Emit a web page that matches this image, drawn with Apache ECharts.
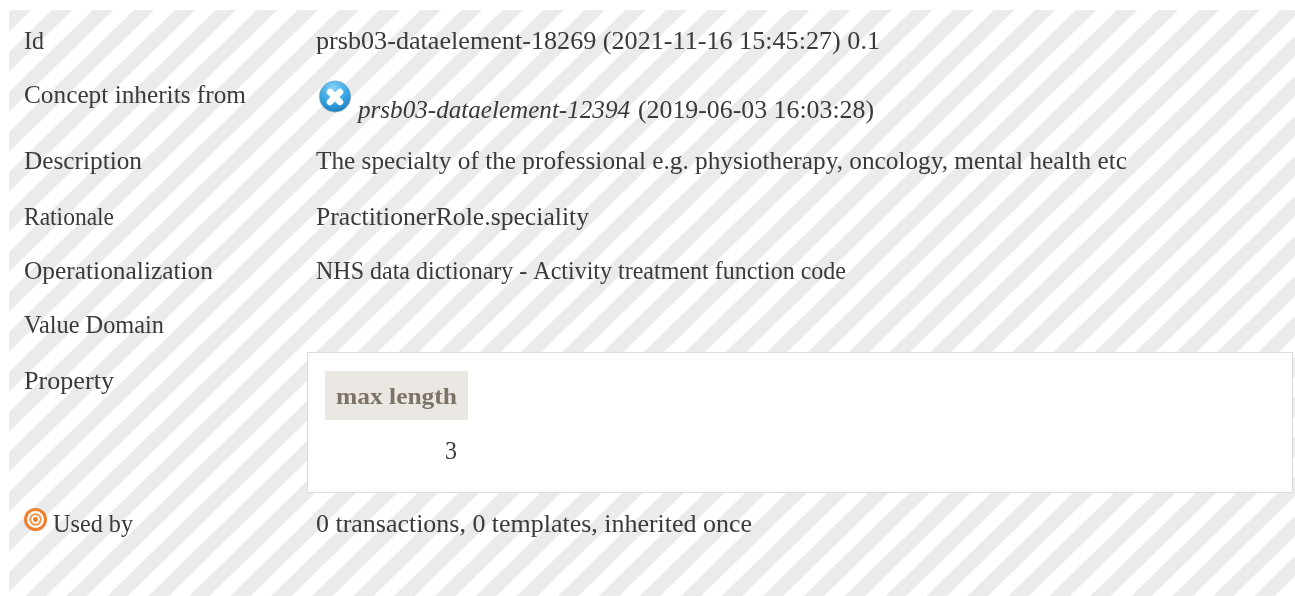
<!DOCTYPE html>
<html>
<head>
<meta charset="utf-8">
<title>prsb03-dataelement-18269</title>
<style>
html, body { margin: 0; padding: 0; background: #fff; }
#main { width: 1295px; height: 596px; }
</style>
<script src="https://cdn.jsdelivr.net/npm/echarts@6/dist/echarts.min.js"></script>
</head>
<body>
<div id="main"></div>
<script>
// row labels and their texts
var rowLabels = ['Id', 'Concept inherits from', 'Description', 'Rationale', 'Operationalization', 'Value Domain', 'Property', 'Used by'];
var rowValues = [
	'prsb03-dataelement-18269 (2021-11-16 15:45:27) 0.1',
	'prsb03-dataelement-12394',
	'The specialty of the professional e.g. physiotherapy, oncology, mental health etc',
	'PractitionerRole.speciality',
	'NHS data dictionary - Activity treatment function code',
	'',
	'',
	'0 transactions, 0 templates, inherited once'
];
var inheritedDate = '(2019-06-03 16:03:28)';
var propertyName = 'max length';
var propertyValue = '3';

// layout: y of each row, and the width each text takes in the reference
var labelRows = [43, 97, 163, 219, 273, 327, 383, 526];
var valueRows = [43, 112, 163, 219, 273, 327, 383, 526];
var labelWidths = [20, 222, 118, 90, 189, 140, 90, 80];
var valueWidths = [564, 272, 811, 273, 530, 0, 0, 436];

var serif = '"Liberation Serif", serif';
var textColor = '#3a3a3a';
var fontSize = 24.5;

var measureCtx = document.createElement('canvas').getContext('2d');

/**
 * 背景斜条纹
 */
function stripes(){
	var list = [];
	var step = 40.96, w = 20.5, top = 10, bottom = 596;
	var run = (bottom - top) * 1.024;
	for(var i = -1;i<48;i++){
		var x = 11 + i * step;
		list.push({
			type: 'polygon',
			silent: true,
			shape: {points: [[x, top], [x + w, top], [x + w - run, bottom], [x - run, bottom]]},
			style: {fill: '#ebebeb'}
		});
	}
	// cover what falls left of the page block
	list.push({type: 'rect', silent: true, shape: {x: 0, y: 0, width: 9, height: 596}, style: {fill: '#fff'}});
	return list;
}

// text squeezed horizontally to the width it has in the reference
function textItem(x, y, text, width, font, fill){
	font = font || (fontSize + 'px ' + serif);
	measureCtx.font = font;
	var scale = width ? width / measureCtx.measureText(text).width : 1;
	return {
		type: 'text',
		silent: true,
		x: x,
		y: y,
		scaleX: scale,
		style: {x: 0, y: 0, text: text, fill: fill || textColor, font: font, verticalAlign: 'middle'}
	};
}

function rows(){
	var list = [];
	for(var i = 0;i<rowLabels.length;i++){
		var labelX = rowLabels[i] == 'Used by' ? 53 : 24;
		list.push(textItem(labelX, labelRows[i], rowLabels[i], labelWidths[i]));
		if(rowValues[i]){
			if(i == 1){
				list.push(textItem(358, valueRows[i], rowValues[i], valueWidths[i], 'italic ' + fontSize + 'px ' + serif));
				list.push(textItem(638, valueRows[i], inheritedDate, 236));
			}else{
				list.push(textItem(316, valueRows[i], rowValues[i], valueWidths[i]));
			}
		}
	}
	return list;
}

function propertyPanel(){
	return [
		{type: 'rect', silent: true, shape: {x: 307.5, y: 352.5, width: 985, height: 140},
			style: {fill: '#fff', stroke: '#dcdcdc', lineWidth: 1}},
		{type: 'rect', silent: true, shape: {x: 325, y: 371, width: 143, height: 49},
			style: {fill: '#ebe7e3'}},
		textItem(336, 398, propertyName, 121, 'bold 24px ' + serif, '#7d7266'),
		textItem(445, 453, propertyValue, 12)
	];
}

function icons(){
	var blue = {type: 'radial', x: 0.45, y: 0.25, r: 0.85, colorStops: [
		{offset: 0, color: '#86d4f7'}, {offset: 0.55, color: '#34a2e0'}, {offset: 1, color: '#1a70b5'}
	]};
	return [
		{type: 'circle', silent: true, shape: {cx: 335, cy: 96.5, r: 15.7}, style: {fill: blue, stroke: '#a3b2ba', lineWidth: 0.6}},
		{type: 'line', silent: true, shape: {x1: 330, y1: 92, x2: 340, y2: 102}, style: {stroke: '#fff', lineWidth: 6.5, lineCap: 'round'}},
		{type: 'line', silent: true, shape: {x1: 340, y1: 92, x2: 330, y2: 102}, style: {stroke: '#fff', lineWidth: 6.5, lineCap: 'round'}},
		{type: 'circle', silent: true, shape: {cx: 35.5, cy: 519.5, r: 11.5}, style: {fill: '#f08030'}},
		{type: 'circle', silent: true, shape: {cx: 35.5, cy: 519.5, r: 8.5}, style: {fill: '#fff'}},
		{type: 'circle', silent: true, shape: {cx: 35.5, cy: 519.5, r: 6.3}, style: {fill: '#f59a50'}},
		{type: 'circle', silent: true, shape: {cx: 35.5, cy: 519.5, r: 4.2}, style: {fill: '#fff'}},
		{type: 'circle', silent: true, shape: {cx: 35.5, cy: 519.5, r: 2.4}, style: {fill: '#ee7a20'}}
	];
}

var chart = echarts.init(document.getElementById('main'));
chart.setOption({
	animation: false,
	graphic: {
		elements: stripes().concat(propertyPanel(), rows(), icons())
	}
});
</script>
</body>
</html>
